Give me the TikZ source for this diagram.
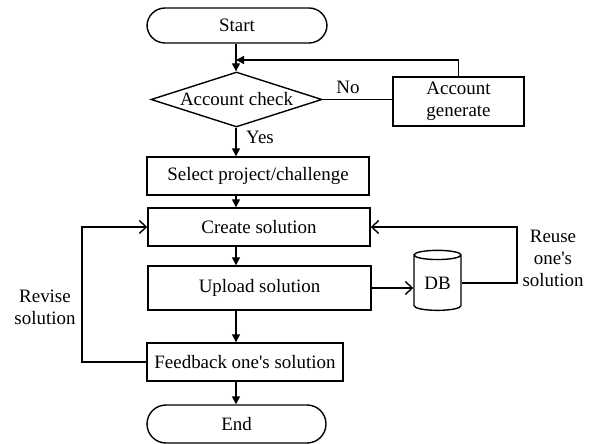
\documentclass[tikz,border=0pt]{standalone}
\usepackage{fontspec}
\setmainfont{Liberation Serif}
\usetikzlibrary{shapes.geometric,arrows.meta}
\begin{document}
\begin{tikzpicture}[x=1bp,y=-1bp,
  every node/.style={font=\fontsize{19}{22}\selectfont, inner sep=0pt},
  box/.style={draw, line width=1.4bp, rectangle, align=center},
  term/.style={draw, line width=1.4bp, rectangle, rounded corners=18bp},
  decision/.style={draw, line width=1.4bp, diamond},
  dbshape/.style={draw, line width=1.4bp, cylinder, shape border rotate=90, aspect=0.35},
  flow/.style={line width=1.4bp, -{Triangle[length=8bp,width=8bp]}},
  back/.style={line width=1.4bp, -{Straight Barb[length=7bp,width=13bp,line width=1.4bp]}},
  plain/.style={line width=1.4bp},
  lbl/.style={align=center}]
\useasboundingbox (0,0) rectangle (592,444);
\node[term, minimum width=180bp, minimum height=35bp] (start) at (237,25.5) {Start};
\node[decision, minimum width=171bp, minimum height=55bp] (check) at (236.5,99.5) {};
\node (checkt) at (check) {Account check};
\node[box, minimum width=131bp, minimum height=49bp] (gen) at (458.5,101.5) {Account\\generate};
\node[box, minimum width=222bp, minimum height=38bp] (select) at (258,176) {Select project/challenge};
\node[box, minimum width=222bp, minimum height=38bp] (create) at (259,227) {Create solution};
\node[box, minimum width=223bp, minimum height=44bp] (upload) at (259.5,288) {Upload solution};
\node[box, minimum width=196bp, minimum height=38bp] (feed) at (245,362) {Feedback one\textquotesingle s solution};
\node[term, minimum width=179bp, minimum height=38bp, rounded corners=19bp] (end) at (236.5,424) {End};
\node[dbshape, minimum width=47bp, minimum height=60bp] (db) at (437.5,283) {DB};
\coordinate (cx) at (236,0);
\coordinate (j) at (236,60);
\coordinate (rx) at (517,0);
\coordinate (lx) at (82,0);
\node (no) at (348,87) {No};
\node (yes) at (260,137) {Yes};
\node[lbl] (reuse) at (553,258) {Reuse\\one\textquotesingle s\\solution};
\node[lbl] (revise) at (45,307) {Revise\\solution};
\draw[flow] (start.south -| cx) -- (check.north -| cx);
\draw[plain] (check.east) -- (check.east -| gen.west);
\draw[flow] (gen.north) |- (j);
\draw[flow] (check.south -| cx) -- (select.north -| cx);
\draw[flow] (select.south -| cx) -- (create.north -| cx);
\draw[flow] (create.south -| cx) -- (upload.north -| cx);
\draw[flow] (upload.south -| cx) -- (feed.north -| cx);
\draw[flow] (feed.south -| cx) -- (end.north -| cx);
\draw[back] (upload.east) -- (upload.east -| db.west);
\draw[back] (db.east) -- (db.east -| rx) |- (create.east);
\draw[back] (feed.west) -- (feed.west -| lx) |- (create.west);
\end{tikzpicture}
\end{document}
